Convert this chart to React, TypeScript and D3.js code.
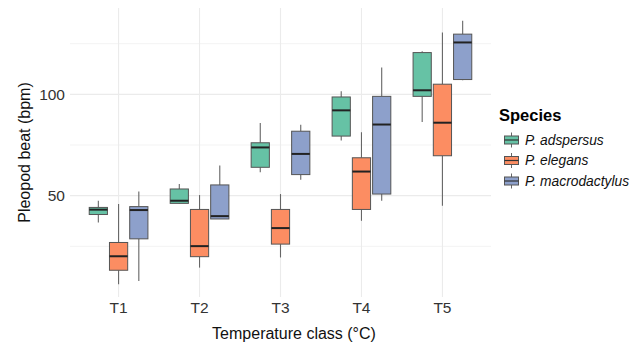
import * as d3 from "d3";

const classes = ["T1", "T2", "T3", "T4", "T5"];
const species = ["P. adspersus", "P. elegans", "P. macrodactylus"];
const colors = ["#66c2a5", "#fc8d62", "#8da0cb"];

// [lower whisker, q1, median, q3, upper whisker] per class
const adspersus = [
  [36.8, 40.7, 43.1, 44.2, 47.5],
  [46.0, 46.2, 47.5, 53.3, 55.8],
  [61.5, 64.0, 73.8, 76.1, 85.8],
  [77.2, 79.4, 92.1, 98.7, 101.5],
  [86.3, 99.0, 102.0, 120.6, 121.3],
];
const elegans = [
  [6.3, 13.2, 20.1, 26.9, 45.9],
  [14.5, 19.9, 25.1, 43.2, 50.3],
  [19.5, 26.1, 34.0, 43.2, 50.8],
  [37.6, 43.2, 61.9, 68.7, 81.3],
  [45.0, 69.7, 86.0, 105.0, 130.5],
];
const macrodactylus = [
  [7.9, 28.7, 42.9, 44.6, 52.0],
  [38.5, 38.5, 39.9, 55.3, 64.9],
  [57.8, 60.4, 70.6, 81.8, 85.0],
  [47.5, 50.8, 85.1, 99.0, 113.2],
  [107.0, 107.3, 125.6, 129.7, 136.3],
];
const yMajor = [50, 100];
const yMinor = [25, 75, 125];

const series = [adspersus, elegans, macrodactylus];

export default function App() {
  const width = 639, height = 343;
  const left = 70, right = 491, top = 8, bottom = 297;

  const x = d3.scaleLinear().domain([0.4, 5.6]).range([left, right]);
  const y = d3.scaleLinear().domain([0, 142.6]).range([bottom, top]);
  const dodge = 0.25;
  const boxW = x(0.225) - x(0);

  const font = "Liberation Sans, Arial, sans-serif";

  return (
    <svg width={width} height={height} style={{ position: "absolute", left: 0, top: 0 }} fontFamily={font}>
      <rect width={width} height={height} fill="white" />
      {yMinor.map(v => (
        <line key={"mi" + v} x1={left} x2={right} y1={y(v)} y2={y(v)} stroke="#f0f0f0" strokeWidth={0.8} />
      ))}
      {yMajor.map(v => (
        <line key={"ma" + v} x1={left} x2={right} y1={y(v)} y2={y(v)} stroke="#ebebeb" strokeWidth={1.1} />
      ))}
      {classes.map((c, i) => (
        <line key={"gx" + c} x1={x(i + 1)} x2={x(i + 1)} y1={top} y2={bottom} stroke="#ebebeb" strokeWidth={1.1} />
      ))}
      {series.map((s, si) =>
        s.map((d, i) => {
          const cx = x(i + 1 + (si - 1) * dodge);
          const [lo, q1, med, q3, hi] = d;
          return (
            <g key={si + "-" + i}>
              <line x1={cx} x2={cx} y1={y(hi)} y2={y(q3)} stroke="#666" strokeWidth={1.1} />
              <line x1={cx} x2={cx} y1={y(q1)} y2={y(lo)} stroke="#666" strokeWidth={1.1} />
              <rect x={cx - boxW / 2} y={y(q3)} width={boxW} height={y(q1) - y(q3)} fill={colors[si]} stroke="#555" strokeWidth={1} />
              <line x1={cx - boxW / 2} x2={cx + boxW / 2} y1={y(med)} y2={y(med)} stroke="#222" strokeWidth={2} />
            </g>
          );
        })
      )}
      {yMajor.map(v => (
        <text key={"yt" + v} x={65} y={y(v)} dy="0.35em" textAnchor="end" fontSize={15.5} fill="#333">{v}</text>
      ))}
      {classes.map((c, i) => (
        <text key={"xt" + c} x={x(i + 1)} y={313} textAnchor="middle" fontSize={15.5} fill="#333">{c}</text>
      ))}
      <text x={294} y={339} textAnchor="middle" fontSize={16} fill="#111">Temperature class (°C)</text>
      <text transform={`translate(30,${(top + bottom) / 2}) rotate(-90)`} textAnchor="middle" fontSize={16} fill="#111">Pleopod beat (bpm)</text>
      <text x={499} y={121} fontSize={16.5} fontWeight="bold" fill="#000">Species</text>
      {species.map((sp, i) => {
        const ky = 131.5 + i * 20.5;
        const kx = 503, ks = 17;
        return (
          <g key={sp}>
            <line x1={kx + ks / 2} x2={kx + ks / 2} y1={ky + 1} y2={ky + ks - 1} stroke="#666" strokeWidth={1} />
            <rect x={kx + 1.5} y={ky + 4.5} width={ks - 3} height={ks - 9} fill={colors[i]} stroke="#555" strokeWidth={1} />
            <line x1={kx + 1.5} x2={kx + ks - 1.5} y1={ky + ks / 2} y2={ky + ks / 2} stroke="#333" strokeWidth={1.2} />
            <text x={kx + ks + 5} y={ky + ks / 2} dy="0.35em" fontSize={13.8} fontStyle="italic" fill="#111">{sp}</text>
          </g>
        );
      })}
    </svg>
  );
}
